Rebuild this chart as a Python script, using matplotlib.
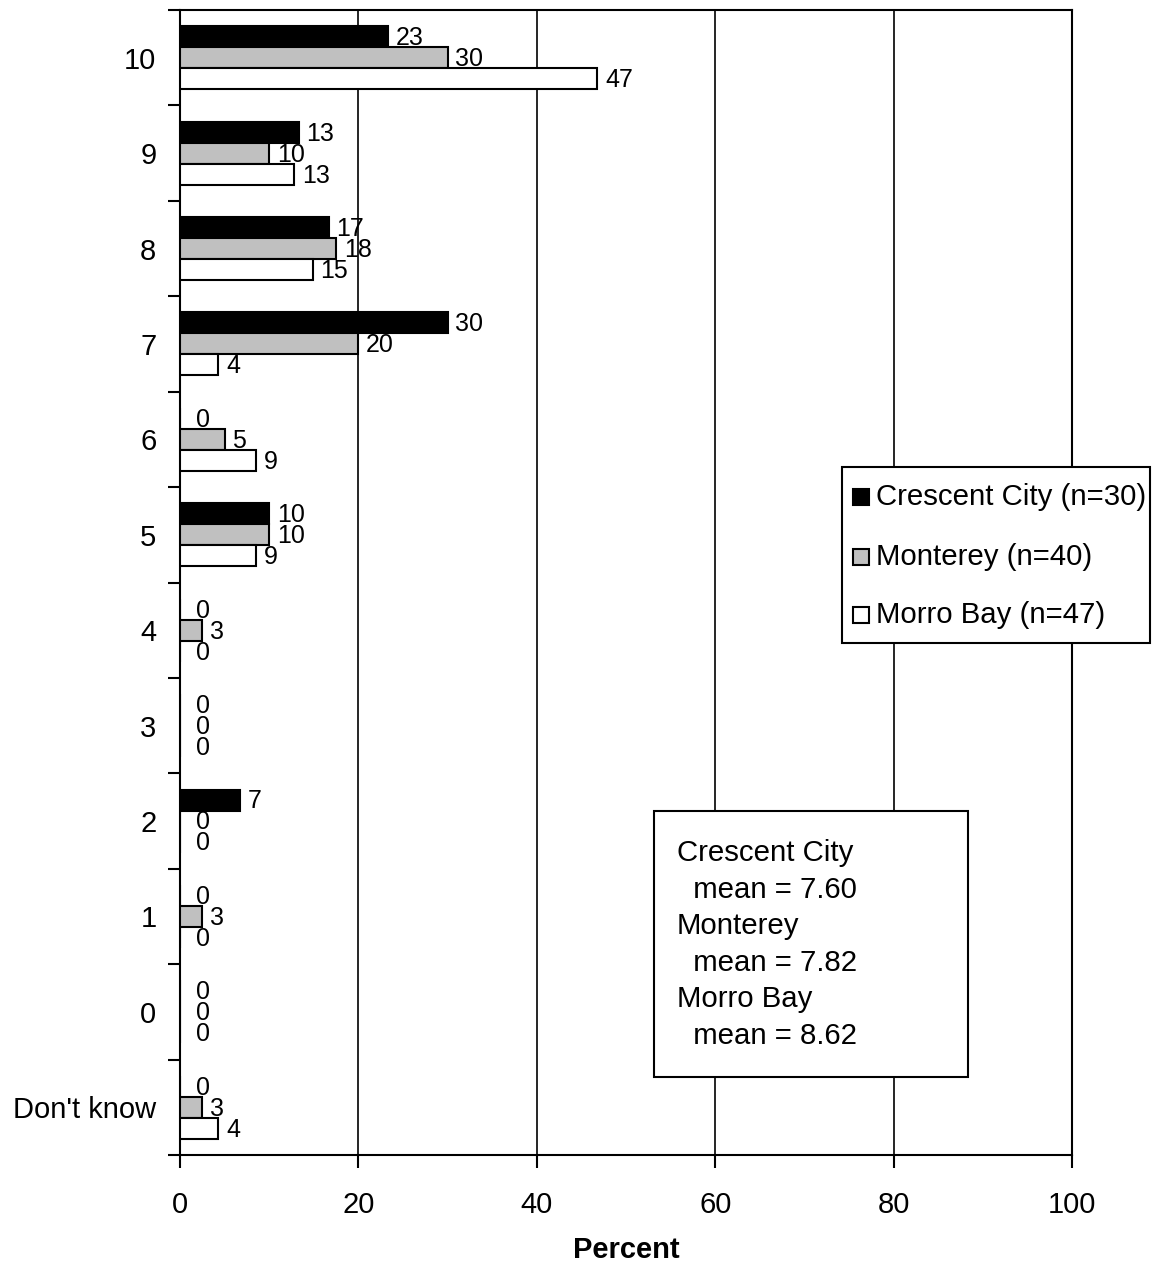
import matplotlib
matplotlib.use("Agg")
import matplotlib.pyplot as plt
from matplotlib.patches import Rectangle
import numpy as np

plt.rcParams['font.family'] = ['Liberation Sans', 'DejaVu Sans']

# categories from top to bottom
categories = ['10', '9', '8', '7', '6', '5', '4', '3', '2', '1', '0', "Don't know"]

# percent of respondents (bar lengths)
crescent = [23.3, 13.3, 16.7, 30.0, 0, 10.0, 0, 0, 6.7, 0, 0, 0]
monterey = [30.0, 10.0, 17.5, 20.0, 5.0, 10.0, 2.5, 0, 0, 2.5, 0, 2.5]
morro = [46.8, 12.8, 14.9, 4.3, 8.5, 8.5, 0, 0, 0, 0, 0, 4.3]

# rounded labels as printed on the chart
crescent_lbl = [23, 13, 17, 30, 0, 10, 0, 0, 7, 0, 0, 0]
monterey_lbl = [30, 10, 18, 20, 5, 10, 3, 0, 0, 3, 0, 3]
morro_lbl = [47, 13, 15, 4, 9, 9, 0, 0, 0, 0, 0, 4]

series_names = ['Crescent City (n=30)', 'Monterey (n=40)', 'Morro Bay (n=47)']
series_colors = ['black', '#c0c0c0', 'white']

mean_lines = ['Crescent City', '  mean = 7.60', 'Monterey', '  mean = 7.82',
              'Morro Bay', '  mean = 8.62']

W, H = 1157, 1262
fig = plt.figure(figsize=(W / 100, H / 100), dpi=100)


def fx(px):
    return px / W


def fy(py):
    return 1 - py / H


def box(x0, y0, x1, y1, **kw):
    # rectangle given in pixel coords from the top-left corner
    r = Rectangle((fx(x0), fy(y1)), fx(x1) - fx(x0), fy(y0) - fy(y1),
                  transform=fig.transFigure, **kw)
    fig.patches.append(r)


ax = fig.add_axes([fx(180), fy(1155), fx(1072) - fx(180), fy(10) - fy(1155)])

y = np.arange(len(categories))
bh = 0.22
data = [crescent, monterey, morro]
labels = [crescent_lbl, monterey_lbl, morro_lbl]
for i, (vals, lbls) in enumerate(zip(data, labels)):
    pos = y + (i - 1) * bh
    ax.barh(pos, vals, height=bh, color=series_colors[i], edgecolor='black',
            linewidth=1.5, zorder=3)
    for p, v, l in zip(pos, vals, lbls):
        off = 5.5 if v > 0 else 11.5
        ax.annotate(str(l), (v, p), xytext=(off, -1), textcoords='offset points',
                    ha='left', va='center', fontsize=18, zorder=4)

ax.set_xlim(0, 100)
ax.set_ylim(len(categories) - 0.5, -0.5)
ax.set_xticks(np.arange(0, 101, 20))
ax.xaxis.grid(True, color='black', linewidth=1.2, zorder=0)
ax.tick_params(axis='x', direction='out', length=9, width=1.5, pad=17, labelsize=21)

ax.set_yticks(y)
ax.set_yticklabels(categories)
ax.set_yticks(np.arange(-0.5, len(categories)), minor=True)
ax.tick_params(axis='y', which='major', length=0, pad=17, labelsize=21)
ax.tick_params(axis='y', which='minor', direction='out', length=9, width=1.5)

for s in ax.spines.values():
    s.set_linewidth(1.5)

fig.text((fx(180) + fx(1072)) / 2, fy(1258), 'Percent', ha='center', va='baseline',
         fontsize=21, fontweight='bold')

# legend box drawn by hand
box(842, 467, 1150, 643, facecolor='white', edgecolor='black', linewidth=1.5, zorder=5)
for name, c, ry in zip(series_names, series_colors, [497, 557, 615]):
    box(853, ry - 8, 869, ry + 8, facecolor=c, edgecolor='black', linewidth=1.5, zorder=6)
    fig.text(fx(876), fy(ry), name, ha='left', va='center', fontsize=21.2, zorder=6)

# means box
box(654, 811, 968, 1077, facecolor='white', edgecolor='black', linewidth=1.5, zorder=5)
line_y = [853, 890, 926, 963, 999, 1036]
for txt, ly in zip(mean_lines, line_y):
    fig.text(fx(677), fy(ly), txt, ha='left', va='center', fontsize=21.2, zorder=6)

fig.savefig('out.png', dpi=100, facecolor='white')
